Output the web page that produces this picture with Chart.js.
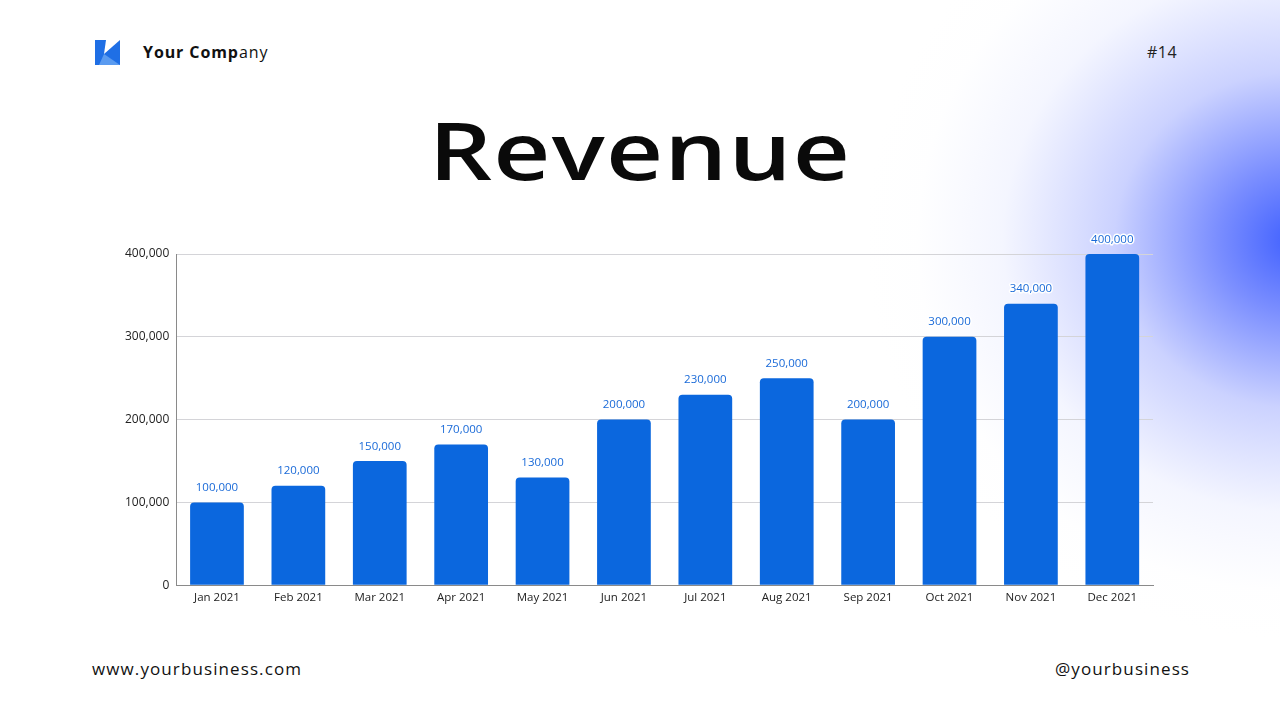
<!DOCTYPE html>
<html>
<head>
<meta charset="utf-8">
<script src="https://cdn.jsdelivr.net/npm/chart.js@4.4.0/dist/chart.umd.min.js"></script>
<style>
  html, body { margin: 0; padding: 0; }
  body {
    width: 1280px; height: 720px; overflow: hidden; position: relative;
    font-family: "Open Sans", sans-serif;
    background:
      radial-gradient(ellipse 430px 400px at 1295px 240px, rgba(64,96,255,1) 0%, rgba(85,110,255,0.78) 18%, rgba(140,155,255,0.45) 42%, rgba(200,208,255,0.2) 68%, rgba(240,242,255,0.06) 88%, rgba(255,255,255,0) 100%),
      #ffffff;
  }
  .logo { position: absolute; left: 95px; top: 40px; width: 25px; height: 25px; }
  .company { position: absolute; left: 143px; top: 41px; font-size: 16px; font-weight: 700; color: #111; letter-spacing: 0.9px; }
  .company span { font-weight: 400; }
  .page { position: absolute; left: 1147px; top: 41px; font-size: 16px; color: #222; letter-spacing: 0.5px; }
  h1 { position: absolute; left: 0; width: 1280px; top: 94px; margin: 0; text-align: center; font-size: 80px; font-weight: 600; color: #0a0a0a; letter-spacing: 1px; transform: scaleX(1.24); }
  .footer { position: absolute; top: 657px; font-size: 17px; color: #111; letter-spacing: 1.1px; }
  #wrap { position: absolute; left: 118px; top: 226px; width: 1052px; height: 385px; }
</style>
</head>
<body>
<svg class="logo" viewBox="0 0 25 25">
  <rect x="0" y="0" width="25" height="25" fill="#1f6fe5"/>
  <polygon points="11,0 25,0 9,14" fill="#ffffff"/>
  <polygon points="9,14 25,25 4,25" fill="#5a9bf0"/>
</svg>
<div class="company">Your Comp<span>any</span></div>
<div class="page">#14</div>
<h1>Revenue</h1>
<div class="footer" style="left:92px">www.yourbusiness.com</div>
<div class="footer" style="left:1055px">@yourbusiness</div>
<div id="wrap"><canvas id="chart"></canvas></div>
<script>
const months = ['Jan 2021', 'Feb 2021', 'Mar 2021', 'Apr 2021', 'May 2021', 'Jun 2021',
                'Jul 2021', 'Aug 2021', 'Sep 2021', 'Oct 2021', 'Nov 2021', 'Dec 2021'];
const revenue = [100000, 120000, 150000, 170000, 130000, 200000,
                 230000, 250000, 200000, 300000, 340000, 400000];
const yTicks = [0, 100000, 200000, 300000, 400000];

const fmt = v => v.toLocaleString('en-US');

// labels above each bar, white halo like the original
const valueLabels = {
  id: 'valueLabels',
  afterDatasetsDraw(chart) {
    const ctx = chart.ctx;
    const meta = chart.getDatasetMeta(0);
    ctx.save();
    ctx.font = '11.5px "Open Sans", sans-serif';
    ctx.textAlign = 'center';
    ctx.textBaseline = 'bottom';
    ctx.lineJoin = 'round';
    meta.data.forEach((bar, i) => {
      const txt = fmt(revenue[i]);
      ctx.lineWidth = 3;
      ctx.strokeStyle = '#ffffff';
      ctx.strokeText(txt, bar.x, bar.y - 9);
      ctx.fillStyle = '#1a6ad8';
      ctx.fillText(txt, bar.x, bar.y - 9);
    });
    ctx.restore();
  }
};

new Chart(document.getElementById('chart'), {
  type: 'bar',
  data: {
    labels: months,
    datasets: [{
      data: revenue,
      backgroundColor: '#0b67de',
      borderRadius: { topLeft: 4, topRight: 4 },
      borderSkipped: 'bottom',
      categoryPercentage: 0.66,
      barPercentage: 1
    }]
  },
  options: {
    responsive: true,
    maintainAspectRatio: false,
    animation: false,
    layout: { padding: { top: 28, right: 17 } },
    plugins: { legend: { display: false }, tooltip: { enabled: false } },
    scales: {
      x: {
        grid: { display: false, drawTicks: false },
        border: { color: '#8a8a8a' },
        ticks: { color: '#222', font: { size: 11.5, family: '"Open Sans", sans-serif' }, padding: 6 }
      },
      y: {
        min: 0, max: 400000,
        afterBuildTicks: axis => { axis.ticks = yTicks.map(v => ({ value: v })); },
        grid: { color: '#d4d4d8', drawTicks: false },
        border: { color: '#8a8a8a' },
        ticks: { color: '#222', font: { size: 12, family: '"Open Sans", sans-serif' }, padding: 7, callback: v => fmt(v) }
      }
    }
  },
  plugins: [valueLabels]
});
</script>
</body>
</html>
